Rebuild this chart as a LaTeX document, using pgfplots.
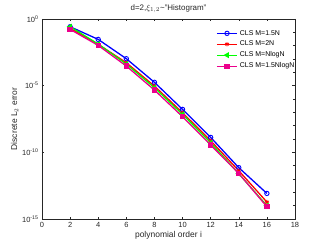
\documentclass[border=0pt]{standalone}
\usepackage{pgfplots}
\pgfplotsset{compat=1.18}
\usepackage{fontspec}
\setmainfont{Liberation Sans}
\definecolor{axgray}{rgb}{0.15,0.15,0.15}
\begin{document}
\begin{tikzpicture}
\path[use as bounding box] (-42bp,-26bp) rectangle (285bp,219bp);
\begin{axis}[
  scale only axis, width=253bp, height=200bp,
  ymode=log, xmin=0, xmax=18, ymin=1e-15, ymax=1,
  xtick={0,2,...,18},
  ytick={1,1e-5,1e-10,1e-15},
  yticklabels={10\textsuperscript{0},10\textsuperscript{-5},10\textsuperscript{-10},10\textsuperscript{-15}},
  minor ytick={1e-1,1e-2,1e-3,1e-4,1e-6,1e-7,1e-8,1e-9,1e-11,1e-12,1e-13,1e-14},
  tick align=inside, tick pos=both,
  major tick length=2.5bp, minor tick length=1.5bp,
  axis line style={axgray, line width=0.4pt},
  every tick/.style={axgray, line width=0.4pt},
  /pgf/number format/assume math mode=true,
  tick label style={font=\fontsize{7.5}{8}\selectfont, text=axgray},
  title={d=2,$\xi_{1,2}$\textasciitilde"Histogram"},
  title style={font=\fontsize{8}{9}\selectfont, text=axgray, yshift=-3bp},
  xlabel={polynomial order i},
  ylabel={Discrete L$_2$ error},
  label style={font=\fontsize{8.5}{9}\selectfont, text=axgray},
  xlabel style={yshift=3bp},
  ylabel style={yshift=-3bp},
  legend style={draw=none, fill=none, at={(1.01,0.96)}, anchor=north east,
    font=\fontsize{7}{8}\selectfont, row sep=0.5pt, inner sep=1pt},
  legend cell align=left,
  legend image code/.code={\draw[mark repeat=2,mark phase=2] plot coordinates {(0cm,0cm)(0.36cm,0cm)(0.72cm,0cm)};},
  every axis plot/.append style={line width=1.3pt},
]
\addplot[blue, mark=o, mark size=2.2pt, mark options={line width=0.9pt}] coordinates {
(2,2.63e-1) (4,2.95e-2) (6,1.05e-3) (8,1.78e-5) (10,1.66e-7) (12,1.32e-9) (14,7.08e-12) (16,8.3e-14)};
\addlegendentry{CLS M=1.5N}
\addplot[red, mark=asterisk, mark size=2.2pt, mark options={line width=0.9pt}] coordinates {
(2,2.0e-1) (4,1.26e-2) (6,5.25e-4) (8,9.3e-6) (10,9.3e-8) (12,7.4e-10) (14,4.2e-12) (16,1.86e-14)};
\addlegendentry{CLS M=2N}
\addplot[green, mark=triangle*, mark size=2.2pt, mark options={rotate=90}] coordinates {
(2,2.63e-1) (4,1.32e-2) (6,4.17e-4) (8,7.1e-6) (10,7.1e-8) (12,5.25e-10) (14,2.5e-12) (16,1.0e-14)};
\addlegendentry{CLS M=NlogN}
\addplot[magenta, mark=square*, mark size=2pt] coordinates {
(2,1.66e-1) (4,1.05e-2) (6,2.95e-4) (8,4.7e-6) (10,4.7e-8) (12,3.55e-10) (14,2.63e-12) (16,8.3e-15)};
\addlegendentry{CLS M=1.5NlogN}
\end{axis}
\end{tikzpicture}
\end{document}
